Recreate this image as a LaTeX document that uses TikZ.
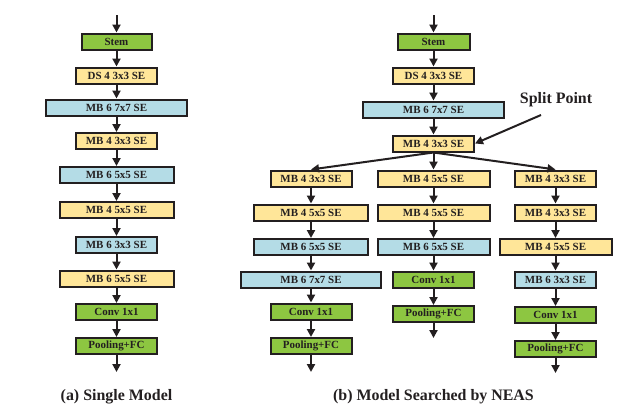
\documentclass[tikz,border=0pt]{standalone}
\usepackage{fontspec}
\setmainfont{Liberation Serif}
\usetikzlibrary{arrows.meta}
\definecolor{ink}{HTML}{231F20}
\definecolor{gfill}{HTML}{8DC641}
\definecolor{yfill}{HTML}{FFE699}
\definecolor{bfill}{HTML}{B4DCE6}
\tikzset{
  blk/.style={draw=ink, line width=2bp, minimum height=16bp, inner sep=0pt,
    text=ink, font=\fontsize{11}{12}\selectfont\bfseries},
  gb/.style={blk, fill=gfill},
  yb/.style={blk, fill=yfill},
  bb/.style={blk, fill=bfill},
  arr/.style={draw=ink, line width=2bp, -{Triangle[length=8bp,width=8bp]}},
  captxt/.style={text=ink, font=\fontsize{16}{19}\selectfont\bfseries}
}
\begin{document}
\begin{tikzpicture}[x=1bp,y=-1bp]
\useasboundingbox (0,0) rectangle (640,415);
% ---------- (a) single model ----------
\coordinate (aTop) at (116.5,15);
\node[gb, minimum width=70bp]  (a1) at (116.5,41.5) {Stem};
\node[yb, minimum width=81bp]  (a2) at (116.5,75.5) {DS 4 3x3 SE};
\node[bb, minimum width=141bp] (a3) at (116.5,107.5) {MB 6 7x7 SE};
\node[yb, minimum width=81bp]  (a4) at (116.5,141) {MB 4 3x3 SE};
\node[bb, minimum width=114bp] (a5) at (116.5,175) {MB 6 5x5 SE};
\node[yb, minimum width=114bp] (a6) at (116.5,210) {MB 4 5x5 SE};
\node[bb, minimum width=81bp]  (a7) at (116.5,245) {MB 6 3x3 SE};
\node[yb, minimum width=114bp] (a8) at (116.5,278.5) {MB 6 5x5 SE};
\node[gb, minimum width=81bp]  (a9) at (116.5,312) {Conv 1x1};
\node[gb, minimum width=81bp]  (a10) at (116.5,346) {Pooling+FC};
\coordinate (aEnd) at (116.5,372);
\draw[arr] (aTop) -- (a1);
\foreach \i/\j in {1/2,2/3,3/4,4/5,5/6,6/7,7/8,8/9,9/10}{\draw[arr] (a\i) -- (a\j);}
\draw[arr] (a10) -- (aEnd);
\node[captxt] (capa) at (116.5,397) {(a) Single Model};
% ---------- (b) NEAS ----------
\coordinate (bTop) at (433.5,15);
\node[gb, minimum width=72bp]  (b1) at (433.5,41.5) {Stem};
\node[yb, minimum width=81bp]  (b2) at (433.5,75.5) {DS 4 3x3 SE};
\node[bb, minimum width=141bp] (b3) at (433.5,109.5) {MB 6 7x7 SE};
\node[yb, minimum width=81bp]  (b4) at (433.5,143.5) {MB 4 3x3 SE};
\draw[arr] (bTop) -- (b1);
\draw[arr] (b1) -- (b2);
\draw[arr] (b2) -- (b3);
\draw[arr] (b3) -- (b4);
\node[captxt] (sp) at (556,100) {Split Point};
\coordinate (spA) at (541,115);
\draw[arr] (spA) -- (b4.east);
% left branch
\node[yb, minimum width=81bp]  (l1) at (311,178.5) {MB 4 3x3 SE};
\node[yb, minimum width=114bp] (l2) at (311,212.5) {MB 4 5x5 SE};
\node[bb, minimum width=114bp] (l3) at (311,247) {MB 6 5x5 SE};
\node[bb, minimum width=140bp] (l4) at (311,279.5) {MB 6 7x7 SE};
\node[gb, minimum width=81bp]  (l5) at (311,311.5) {Conv 1x1};
\node[gb, minimum width=81bp]  (l6) at (311,346) {Pooling+FC};
\coordinate (lEnd) at (311,372);
% middle branch
\node[yb, minimum width=112bp] (m1) at (433.5,178.5) {MB 4 5x5 SE};
\node[yb, minimum width=112bp] (m2) at (433.5,212.5) {MB 4 5x5 SE};
\node[bb, minimum width=112bp] (m3) at (433.5,247) {MB 6 5x5 SE};
\node[gb, minimum width=81bp]  (m4) at (433.5,279.5) {Conv 1x1};
\node[gb, minimum width=81bp]  (m5) at (433.5,314) {Pooling+FC};
\coordinate (mEnd) at (433.5,338);
% right branch
\node[yb, minimum width=81bp]  (r1) at (555.5,178.5) {MB 4 3x3 SE};
\node[yb, minimum width=81bp]  (r2) at (555.5,212.5) {MB 4 3x3 SE};
\node[yb, minimum width=112bp] (r3) at (555.5,247) {MB 4 5x5 SE};
\node[bb, minimum width=81bp]  (r4) at (555.5,279.5) {MB 6 3x3 SE};
\node[gb, minimum width=81bp]  (r5) at (555.5,315) {Conv 1x1};
\node[gb, minimum width=81bp]  (r6) at (555.5,349) {Pooling+FC};
\coordinate (rEnd) at (555.5,373);
\draw[arr] (b4.south) -- (l1.north);
\draw[arr] (b4.south) -- (m1.north);
\draw[arr] (b4.south) -- (r1.north);
\foreach \i/\j in {1/2,2/3,3/4,4/5,5/6}{\draw[arr] (l\i) -- (l\j);}
\draw[arr] (l6) -- (lEnd);
\foreach \i/\j in {1/2,2/3,3/4,4/5}{\draw[arr] (m\i) -- (m\j);}
\draw[arr] (m5) -- (mEnd);
\foreach \i/\j in {1/2,2/3,3/4,4/5,5/6}{\draw[arr] (r\i) -- (r\j);}
\draw[arr] (r6) -- (rEnd);
\node[captxt] (capb) at (433.5,397) {(b) Model Searched by NEAS};
\end{tikzpicture}
\end{document}
